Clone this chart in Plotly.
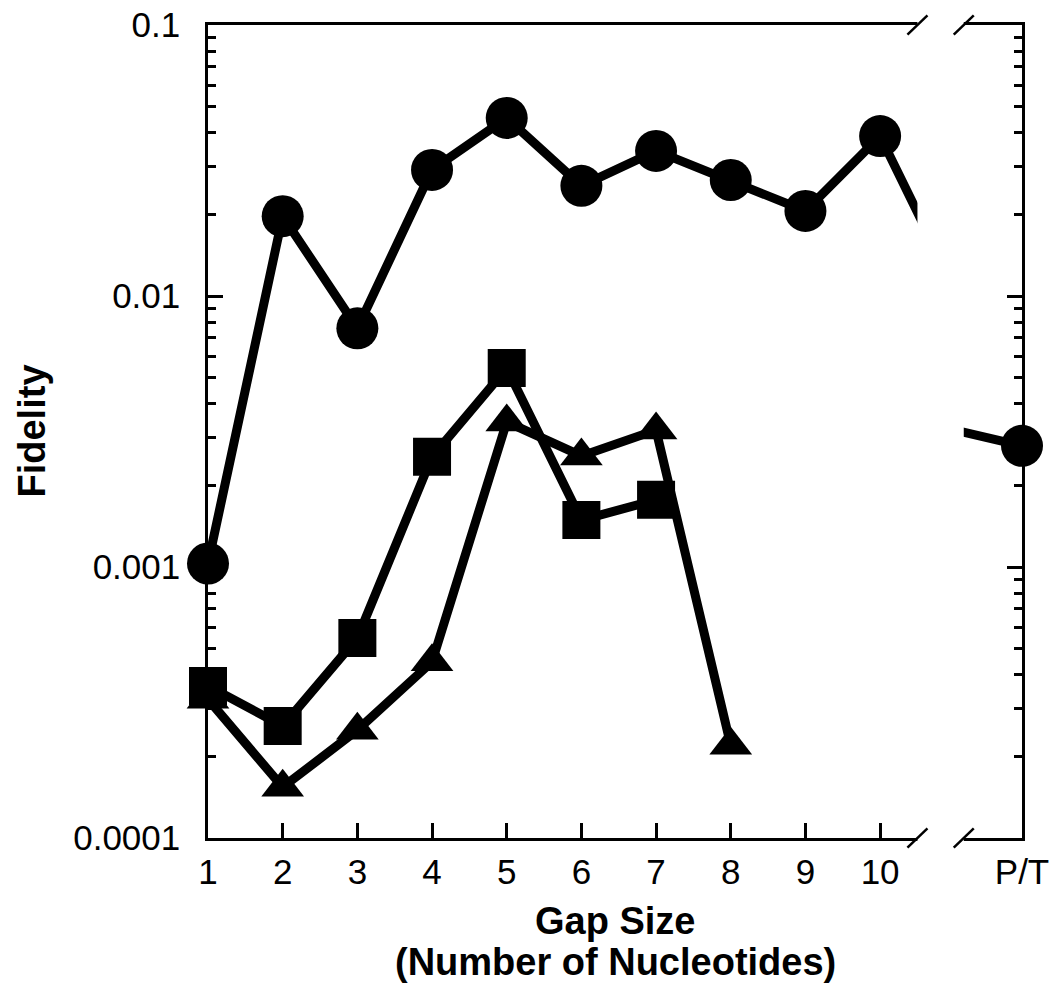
import plotly.graph_objects as go

# ---- data ----
gap_labels = ["1", "2", "3", "4", "5", "6", "7", "8", "9", "10", "P/T"]
gap_pos = [1, 2, 3, 4, 5, 6, 7, 8, 9, 10, 11.9]

circle_vals = [0.00103, 0.0197, 0.0076, 0.0292, 0.0454, 0.0255, 0.0343, 0.0268, 0.0206, 0.0389, 0.0028]
square_vals = [0.000364, 0.000259, 0.000547, 0.00255, 0.00542, 0.00149, 0.00177]
triangle_vals = [0.000325, 0.000154, 0.00025, 0.000447, 0.00343, 0.00257, 0.0032, 0.00022]

# hidden continuation of the circle series inside the axis break
break_pos = [10.8, 11.0]
break_vals = [0.0138, 0.0032]

y_tick_vals = [0.0001, 0.001, 0.01, 0.1]
y_tick_text = ["0.0001", "0.001", "0.01", "0.1"]
y_minor_vals = [m * d for d in (0.0001, 0.001, 0.01) for m in range(2, 10)]

BLACK = "black"
FONT = "Arial, Liberation Sans, sans-serif"
LW = 9
TICK_SIZE = 35
TITLE_SIZE = 38

ML, MR, MT, MB = 208, 28, 25, 156
PW = 1050 - ML - MR
PH = 994 - MT - MB

circle_x = gap_pos[:10] + break_pos + gap_pos[10:]
circle_y = circle_vals[:10] + break_vals + circle_vals[10:]
circle_sizes = [42] * 10 + [0] * len(break_pos) + [42]

fig = go.Figure()
fig.add_trace(go.Scatter(
    x=gap_pos[:len(triangle_vals)], y=triangle_vals, mode="lines+markers",
    line=dict(color=BLACK, width=LW),
    marker=dict(symbol="triangle-up", size=37, color=BLACK, opacity=1, line=dict(width=0)),
    cliponaxis=False, showlegend=False))
fig.add_trace(go.Scatter(
    x=gap_pos[:len(square_vals)], y=square_vals, mode="lines+markers",
    line=dict(color=BLACK, width=LW),
    marker=dict(symbol="square", size=38, color=BLACK, opacity=1, line=dict(width=0)),
    cliponaxis=False, showlegend=False))
fig.add_trace(go.Scatter(
    x=circle_x, y=circle_y, mode="lines+markers",
    line=dict(color=BLACK, width=LW),
    marker=dict(symbol="circle", size=circle_sizes, color=BLACK, opacity=1,
                line=dict(width=0, color=BLACK)),
    cliponaxis=False, showlegend=False))

# axis break: white mask and slashes
brk0, brk1 = 10.5, 11.12
shapes = [dict(type="rect", xref="x", yref="paper", x0=brk0, x1=brk1, y0=-0.02, y1=1.02,
               fillcolor="white", line=dict(width=0), layer="above")]
dx, dy = 0.134, 0.0118
for xc in (brk0, brk1):
    for yc in (0, 1):
        shapes.append(dict(type="line", xref="x", yref="paper",
                           x0=xc - dx, x1=xc + dx, y0=yc - dy, y1=yc + dy,
                           line=dict(color=BLACK, width=2.5), layer="above"))

annotations = [
    dict(text="<b>Fidelity</b>", xref="paper", yref="paper", x=(31 - ML) / PW, y=0.5,
         xanchor="center", yanchor="middle", textangle=-90, showarrow=False,
         font=dict(family=FONT, size=TITLE_SIZE, color=BLACK)),
    dict(text="<b>Gap Size</b>", xref="paper", yref="paper", x=0.5, y=-(921 - 838) / PH,
         xanchor="center", yanchor="middle", showarrow=False,
         font=dict(family=FONT, size=TITLE_SIZE, color=BLACK)),
    dict(text="<b>(Number of Nucleotides)</b>", xref="paper", yref="paper", x=0.5,
         y=-(962 - 838) / PH, xanchor="center", yanchor="middle", showarrow=False,
         font=dict(family=FONT, size=TITLE_SIZE, color=BLACK)),
]

fig.update_layout(
    width=1050, height=994, autosize=False,
    margin=dict(l=ML, r=MR, t=MT, b=MB, autoexpand=False),
    paper_bgcolor="white", plot_bgcolor="white",
    font=dict(family=FONT, color=BLACK),
    shapes=shapes, annotations=annotations,
    xaxis=dict(range=[1, 11.9], tickmode="array", tickvals=gap_pos, ticktext=gap_labels,
               ticks="inside", ticklen=15, tickwidth=2.5, tickcolor=BLACK,
               showline=True, linecolor=BLACK, linewidth=2.5, mirror=True,
               showgrid=False, zeroline=False, ticklabelstandoff=1,
               ticklabeloverflow="allow", automargin=False,
               tickfont=dict(family=FONT, size=TICK_SIZE, color=BLACK)),
    yaxis=dict(type="log", range=[-4, -1], tickmode="array", tickvals=y_tick_vals,
               ticktext=y_tick_text, ticks="inside", ticklen=15, tickwidth=2.5,
               tickcolor=BLACK, showline=True, linecolor=BLACK, linewidth=2.5,
               mirror="ticks", showgrid=False, zeroline=False, ticklabelstandoff=18,
               ticklabeloverflow="allow", automargin=False,
               tickfont=dict(family=FONT, size=TICK_SIZE, color=BLACK),
               minor=dict(tickmode="array", tickvals=y_minor_vals, ticks="inside",
                          ticklen=8, tickwidth=2.5, tickcolor=BLACK, showgrid=False)),
)

post_js = (
    "document.documentElement.style.overflow='hidden';"
    "document.body.style.margin='0';document.body.style.overflow='hidden';"
)
fig.write_html("out.html", config={"displayModeBar": False}, post_script=post_js)
